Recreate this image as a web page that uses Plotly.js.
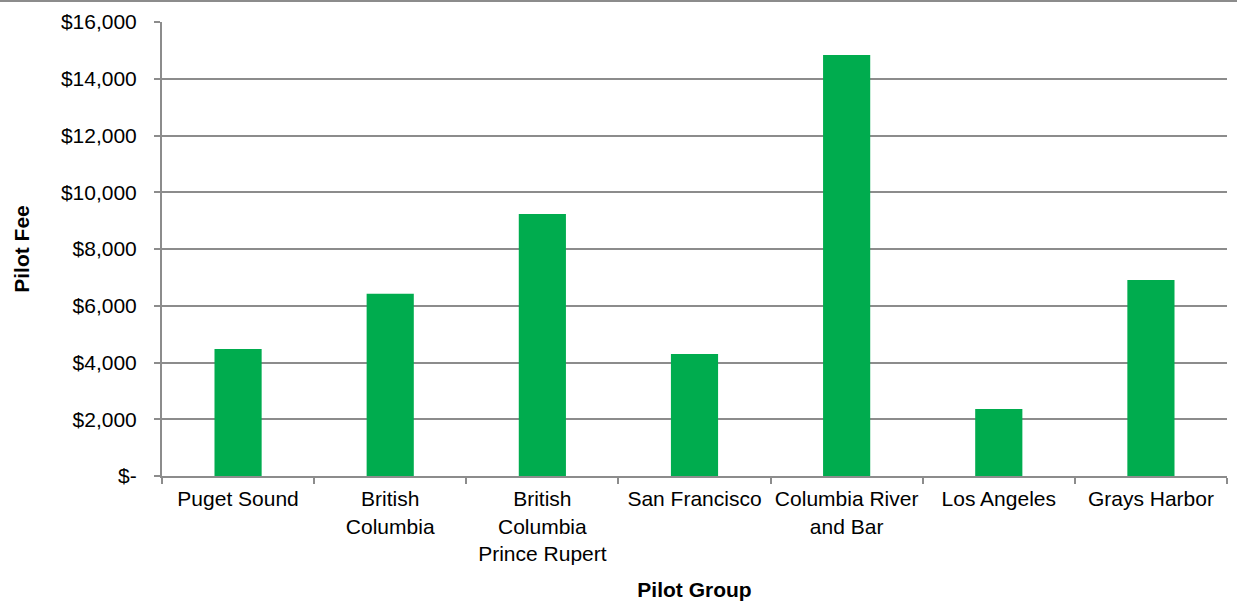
<!DOCTYPE html>
<html><head><meta charset="utf-8">
<script src="https://cdn.plot.ly/plotly-3.0.1.min.js"></script>
<style>body{margin:0;padding:0;background:#fff}#chart{width:1237px;height:604px}</style>
</head><body><div id="chart"></div>
<script>
const categories = ["Puget Sound", "British<br>Columbia", "British<br>Columbia<br>Prince Rupert", "San Francisco", "Columbia River<br>and Bar", "Los Angeles", "Grays Harbor"];
const pilotFees = [4480, 6420, 9230, 4300, 14840, 2360, 6910];
const yTickVals = [0, 2000, 4000, 6000, 8000, 10000, 12000, 14000, 16000];
const yTickText = ["$-", "$2,000", "$4,000", "$6,000", "$8,000", "$10,000", "$12,000", "$14,000", "$16,000"];

const trace = {
  type: 'bar', x: categories, y: pilotFees,
  marker: {color: '#00AC4E'}, hoverinfo: 'x+y'
};
const font = {family: 'Liberation Sans, Arial, sans-serif', size: 21, color: '#000'};
const layout = {
  width: 1237, height: 604,
  margin: {l: 162, r: 10, t: 22, b: 128},
  paper_bgcolor: '#fff', plot_bgcolor: '#fff',
  font: font,
  bargap: 0.69,
  showlegend: false,
  xaxis: {
    tickson: 'boundaries', ticks: 'outside', ticklen: 6, tickcolor: '#8c8c8c', tickwidth: 2,
    showline: true, linecolor: '#8c8c8c', linewidth: 2, showgrid: false,
    tickfont: font, automargin: false, ticklabelstandoff: 3, tickangle: 0,
    title: {text: '<b>Pilot Group</b>', font: font, standoff: 19}
  },
  yaxis: {
    range: [0, 16000], tickvals: yTickVals, ticktext: yTickText,
    ticks: 'outside', ticklen: 6, tickcolor: '#8c8c8c', tickwidth: 2,
    showline: true, linecolor: '#8c8c8c', linewidth: 2,
    showgrid: true, gridcolor: '#8c8c8c', gridwidth: 2, zeroline: false,
    tickfont: font, automargin: false, ticklabelstandoff: 13,
    title: {text: '<b>Pilot Fee</b>', font: font, standoff: 26}
  },
  shapes: [{
    type: 'line', xref: 'paper', yref: 'paper',
    x0: -162/1065, x1: 1 + 10/1065, y0: 1 + 21/454, y1: 1 + 21/454,
    line: {color: '#8c8c8c', width: 2}
  }]
};
Plotly.newPlot('chart', [trace], layout, {displayModeBar: false, staticPlot: true});
</script></body></html>
